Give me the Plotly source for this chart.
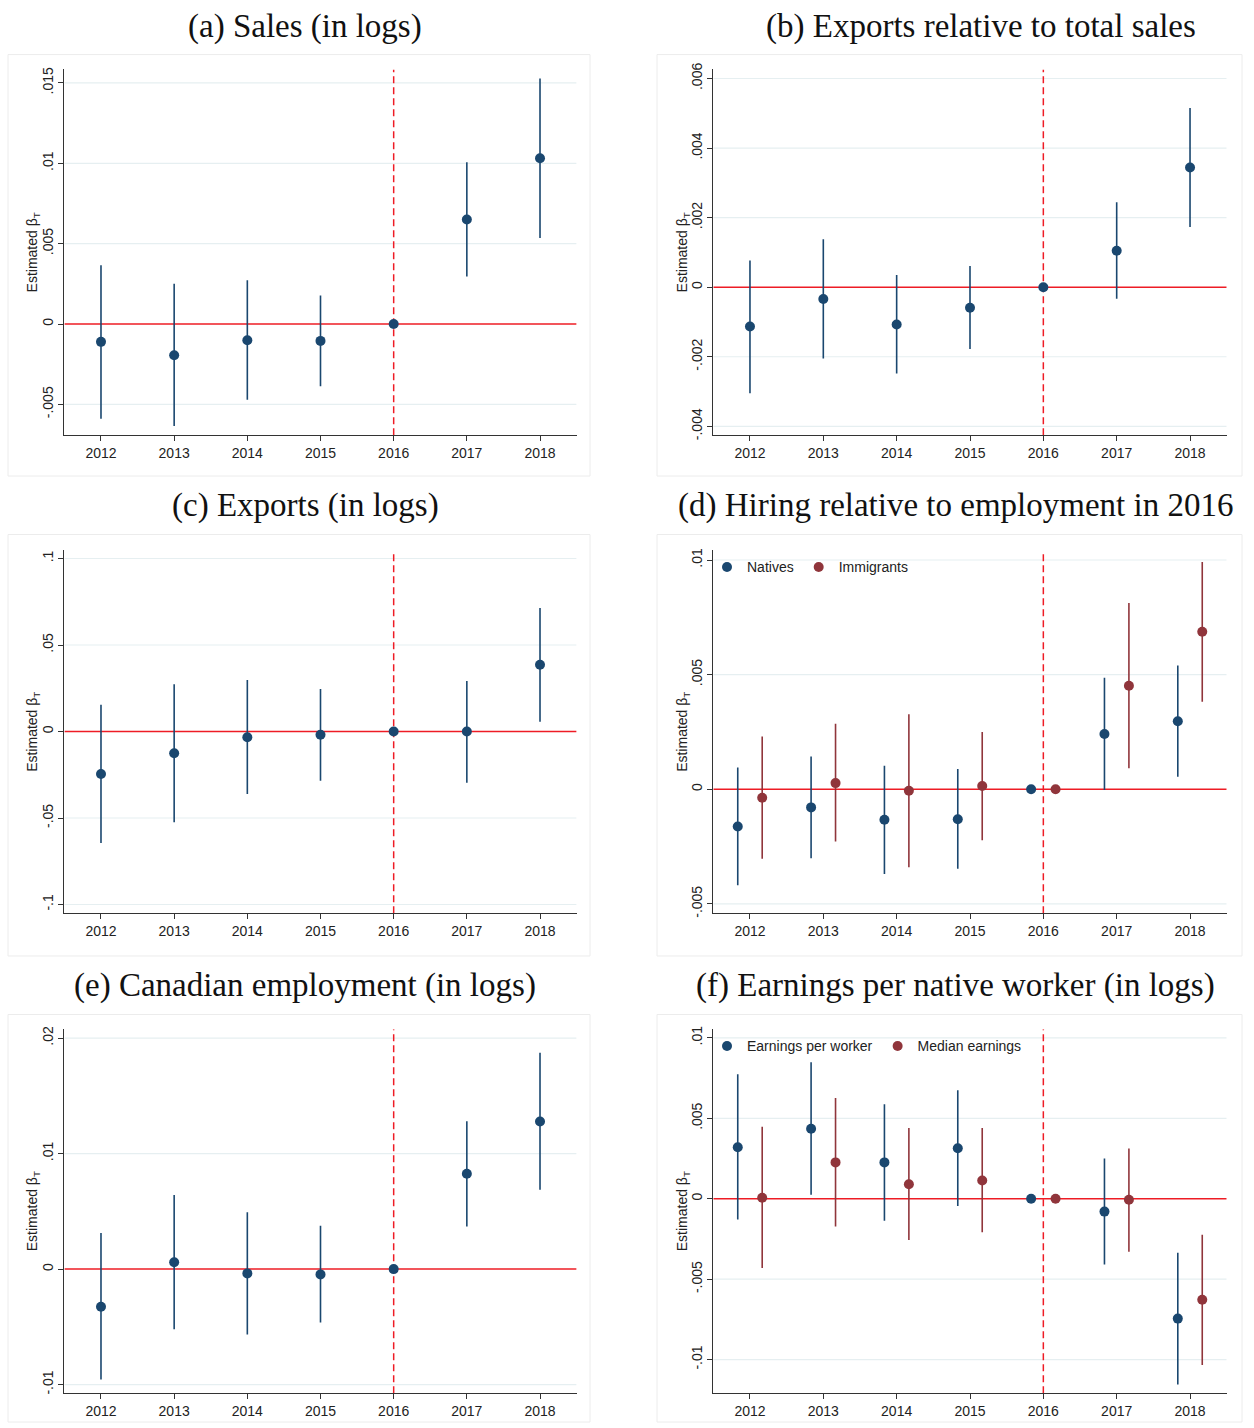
import numpy as np
import plotly.graph_objects as go

years = [2012, 2013, 2014, 2015, 2016, 2017, 2018]

# (a) Sales (in logs)
a_coef = [-0.00111, -0.00194, -0.00101, -0.00105, 0.0, 0.00650, 0.01031]
a_lo = [-0.00590, -0.00635, -0.00472, -0.00388, 0.0, 0.00295, 0.00536]
a_hi = [0.00365, 0.00250, 0.00272, 0.00177, 0.0, 0.01006, 0.01528]

# (b) Exports relative to total sales
b_coef = [-0.00113, -0.00034, -0.00107, -0.00059, 0.0, 0.00105, 0.00344]
b_lo = [-0.00305, -0.00205, -0.00248, -0.00178, 0.0, -0.00033, 0.00173]
b_hi = [0.00077, 0.00138, 0.00035, 0.00061, 0.0, 0.00244, 0.00515]

# (c) Exports (in logs)
c_coef = [-0.0246, -0.0126, -0.0033, -0.0019, 0.0, 0.0000, 0.0386]
c_lo = [-0.0644, -0.0525, -0.0361, -0.0285, 0.0, -0.0296, 0.0057]
c_hi = [0.0155, 0.0273, 0.0298, 0.0246, 0.0, 0.0292, 0.0714]

# (d) Hiring relative to employment in 2016
d_nat_coef = [-0.00162, -0.00079, -0.00133, -0.00131, 0.0, 0.00241, 0.00297]
d_nat_lo = [-0.00419, -0.00301, -0.00370, -0.00347, 0.0, -0.00003, 0.00055]
d_nat_hi = [0.00095, 0.00143, 0.00103, 0.00088, 0.0, 0.00486, 0.00540]
d_imm_coef = [-0.00037, 0.00027, -0.00006, 0.00014, 0.0, 0.00452, 0.00687]
d_imm_lo = [-0.00303, -0.00228, -0.00340, -0.00222, 0.0, 0.00092, 0.00382]
d_imm_hi = [0.00230, 0.00286, 0.00327, 0.00250, 0.0, 0.00812, 0.00991]

# (e) Canadian employment (in logs)
e_coef = [-0.00326, 0.00060, -0.00037, -0.00046, 0.0, 0.00826, 0.01278]
e_lo = [-0.00955, -0.00520, -0.00566, -0.00463, 0.0, 0.00369, 0.00686]
e_hi = [0.00312, 0.00641, 0.00492, 0.00375, 0.0, 0.01281, 0.01873]

# (f) Earnings per native worker (in logs)
f_epw_coef = [0.00320, 0.00435, 0.00226, 0.00314, 0.0, -0.00080, -0.00745]
f_epw_lo = [-0.00129, 0.00025, -0.00136, -0.00045, 0.0, -0.00409, -0.01154]
f_epw_hi = [0.00774, 0.00848, 0.00587, 0.00674, 0.0, 0.00250, -0.00335]
f_med_coef = [0.00006, 0.00226, 0.00090, 0.00113, 0.0, -0.00006, -0.00628]
f_med_lo = [-0.00431, -0.00172, -0.00257, -0.00209, 0.0, -0.00329, -0.01033]
f_med_hi = [0.00448, 0.00626, 0.00440, 0.00440, 0.0, 0.00312, -0.00224]

titles = ["(a) Sales (in logs)", "(b) Exports relative to total sales",
          "(c) Exports (in logs)", "(d) Hiring relative to employment in 2016",
          "(e) Canadian employment (in logs)", "(f) Earnings per native worker (in logs)"]

yticks = {
    1: ([-0.005, 0, 0.005, 0.01, 0.015], ["-.005", "0", ".005", ".01", ".015"], [-0.00693, 0.01584]),
    2: ([-0.004, -0.002, 0, 0.002, 0.004, 0.006], ["-.004", "-.002", "0", ".002", ".004", ".006"], [-0.00426, 0.00626]),
    3: ([-0.1, -0.05, 0, 0.05, 0.1], ["-.1", "-.05", "0", ".05", ".1"], [-0.1051, 0.1047]),
    4: ([-0.005, 0, 0.005, 0.01], ["-.005", "0", ".005", ".01"], [-0.00541, 0.01042]),
    5: ([-0.01, 0, 0.01, 0.02], ["-.01", "0", ".01", ".02"], [-0.01075, 0.02076]),
    6: ([-0.01, -0.005, 0, 0.005, 0.01], ["-.01", "-.005", "0", ".005", ".01"], [-0.01209, 0.01053]),
}

W, H = 1254, 1428
NAVY = "#1a476f"
MAROON = "#90353b"
RED = "#ee1c25"
GRID = "#e6eff1"


def px(X):
    return X / W


def py(Y):
    return 1 - Y / H


col_x = [(64.4, 576.6), (713.3, 1226.7)]
row_y = [(63, 432), (548, 914), (1031, 1398)]

fig = go.Figure()


def add_series(idx, xs, coef, lo, hi, color, name=None, legend=None):
    coef = np.array(coef)
    lo = np.array(lo)
    hi = np.array(hi)
    ax = "" if idx == 1 else str(idx)
    fig.add_trace(go.Scatter(
        x=xs, y=coef, mode="markers",
        marker=dict(color=color, size=10),
        error_y=dict(type="data", symmetric=False, array=hi - coef, arrayminus=coef - lo,
                     color=color, thickness=1.6, width=0),
        xaxis="x" + ax, yaxis="y" + ax,
        name=name if name else "", showlegend=name is not None,
        legend=legend if legend else "legend",
        cliponaxis=False,
    ))


yrs = np.array(years, dtype=float)
add_series(1, yrs, a_coef, a_lo, a_hi, NAVY)
add_series(2, yrs, b_coef, b_lo, b_hi, NAVY)
add_series(3, yrs, c_coef, c_lo, c_hi, NAVY)
add_series(4, yrs - 1 / 6, d_nat_coef, d_nat_lo, d_nat_hi, NAVY, "Natives", "legend")
add_series(4, yrs + 1 / 6, d_imm_coef, d_imm_lo, d_imm_hi, MAROON, "Immigrants", "legend")
add_series(5, yrs, e_coef, e_lo, e_hi, NAVY)
add_series(6, yrs - 1 / 6, f_epw_coef, f_epw_lo, f_epw_hi, NAVY, "Earnings per worker", "legend2")
add_series(6, yrs + 1 / 6, f_med_coef, f_med_lo, f_med_hi, MAROON, "Median earnings", "legend2")

layout = dict(
    width=W, height=H, margin=dict(l=0, r=0, t=0, b=0),
    paper_bgcolor="white", plot_bgcolor="white",
    font=dict(family="Liberation Sans, Arial", size=14, color="#222"),
    shapes=[], annotations=[],
)

tick_font = dict(family="Liberation Sans, Arial", size=14, color="#222")
ytitle_x = [33, 683]
shapes_grid, shapes_ref, shapes_other = [], [], []

for i in range(6):
    idx = i + 1
    r, c = divmod(i, 2)
    x0, x1 = col_x[c]
    yt, yb = row_y[r]
    ax = "" if idx == 1 else str(idx)
    tv, tt, yr = yticks[idx]
    layout["xaxis" + ax] = dict(
        domain=[px(x0), px(x1)], anchor="y" + ax, range=[2011.5, 2018.5],
        tickvals=years, ticktext=[str(y) for y in years], tickfont=tick_font,
        showline=True, linecolor="#333", linewidth=1, ticks="outside", ticklen=5,
        tickcolor="#333", showgrid=False, zeroline=False, fixedrange=True,
    )
    layout["yaxis" + ax] = dict(
        domain=[py(yb), py(yt)], anchor="x" + ax, range=yr,
        tickvals=tv, ticktext=tt, tickangle=-90, tickfont=tick_font,
        showline=True, linecolor="#333", linewidth=1, ticks="outside", ticklen=5,
        tickcolor="#333", showgrid=False, zeroline=False, fixedrange=True,
    )
    # gridlines at the major y ticks (drawn beneath the reference lines)
    for v in tv:
        if v != 0:
            shapes_grid.append(dict(type="line", xref="x" + ax, yref="y" + ax,
                                    x0=2011.5, x1=2018.5, y0=v, y1=v,
                                    line=dict(color=GRID, width=1.2), layer="below"))
    # y-axis title
    layout["annotations"].append(dict(text="Estimated β<sub>T</sub>", xref="paper", yref="paper",
                                      x=px(ytitle_x[c]), y=py((yt + yb) / 2), textangle=-90,
                                      xanchor="center", yanchor="middle", showarrow=False,
                                      font=dict(family="Liberation Sans, Arial", size=14, color="#222")))
    # reference lines
    shapes_ref.append(dict(type="line", xref="x" + ax, yref="y" + ax,
                           x0=2011.5, x1=2018.5, y0=0, y1=0,
                           line=dict(color=RED, width=1.5), layer="below"))
    shapes_ref.append(dict(type="line", xref="x" + ax, yref="y" + ax,
                           x0=2016, x1=2016, y0=yr[0], y1=yr[1],
                           line=dict(color=RED, width=1.5, dash="7px,4px"), layer="below"))
    # panel border
    bx0 = 8 if c == 0 else 657
    bx1 = 590 if c == 0 else 1242
    by0 = [48, 532, 1016][r]
    by1 = [473, 957, 1427][r]
    shapes_other.append(dict(type="rect", xref="paper", yref="paper",
                             x0=px(bx0), x1=px(bx1), y0=py(by1), y1=py(by0),
                             line=dict(color="#ececec", width=1), layer="below"))
    # title
    tx = 305 if c == 0 else (981 if r == 0 else 955)
    ty = [20, 503, 987][r]
    layout["annotations"].append(dict(text=titles[i], xref="paper", yref="paper",
                                      x=px(tx), y=py(ty), xanchor="center", yanchor="middle",
                                      showarrow=False,
                                      font=dict(family="Liberation Serif, Times New Roman, serif",
                                                size=33, color="#111")))

# white legend boxes covering the top gridline (as in the reference)
shapes_box = []
for (bx1, by0, by1) in [(910, 549, 585), (1030, 1032, 1062)]:
    shapes_box.append(dict(type="rect", xref="paper", yref="paper",
                           x0=px(715.5), x1=px(bx1), y0=py(by1), y1=py(by0),
                           fillcolor="white", line=dict(width=0), layer="below"))

layout["shapes"] = shapes_other + shapes_grid + shapes_box + shapes_ref

legend_font = dict(family="Liberation Sans, Arial", size=14, color="#222")
layout["legend"] = dict(x=px(707), y=py(549), xanchor="left", yanchor="top", orientation="h",
                        bgcolor="rgba(0,0,0,0)", font=legend_font, itemwidth=30, tracegroupgap=0)
layout["legend2"] = dict(x=px(707), y=py(1032), xanchor="left", yanchor="top", orientation="h",
                         bgcolor="rgba(0,0,0,0)", font=legend_font, itemwidth=30, tracegroupgap=0)

fig.update_layout(**layout)
fig.write_html("out.html", config={"displayModeBar": False},
               post_script="document.body.style.margin='0';document.body.style.overflow='hidden';")
